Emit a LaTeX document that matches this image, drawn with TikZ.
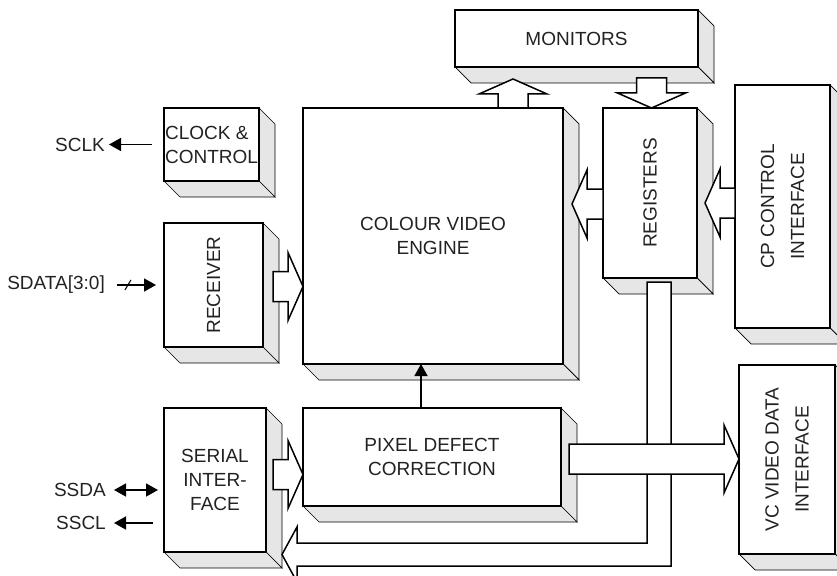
\documentclass[tikz,border=0pt]{standalone}
\usepackage{fontspec}
\setmainfont{Liberation Sans}
\usetikzlibrary{arrows.meta,calc,backgrounds}
\definecolor{ink}{HTML}{000000}
\definecolor{shade}{HTML}{E6E6E6}
\definecolor{txt}{HTML}{222222}
\newcommand\extrude[1]{\draw[face] (#1.north east) -- ++(16,16) -- ($(#1.south east)+(16,16)$) -- (#1.south east) -- cycle;\draw[face] (#1.south west) -- ++(16,16) -- ($(#1.south east)+(16,16)$) -- (#1.south east) -- cycle;}
\begin{document}
\begin{tikzpicture}[x=1pt,y=-1pt,every node/.style={font=\fontsize{19}{24}\selectfont,text=txt},box/.style={draw=ink,line width=1.6pt,fill=white,align=center,inner sep=0pt,outer sep=0pt},face/.style={draw=ink,line width=0.7pt,fill=shade},blk/.style={draw=ink,line width=1.5pt,fill=white},hollow/.style={blk,to path={let \p1=(\tikztostart),\p2=(\tikztotarget),\n1={atan2(\y2-\y1,\x2-\x1)},\n2={veclen(\x2-\x1,\y2-\y1)-15pt} in ($(\p1)+(\n1+90:15pt)$) -- ($(\p1)+(\n1:\n2)+(\n1+90:15pt)$) -- ($(\p1)+(\n1:\n2)+(\n1+90:34pt)$) -- (\p2) -- ($(\p1)+(\n1:\n2)+(\n1-90:34pt)$) -- ($(\p1)+(\n1:\n2)+(\n1-90:15pt)$) -- ($(\p1)+(\n1-90:15pt)$) -- cycle}},sig/.style={draw=ink,line width=1.6pt},fwd/.style={sig,-{Triangle[length=12pt,width=13pt]}},twoway/.style={sig,{Triangle[length=12pt,width=13pt]}-{Triangle[length=12pt,width=13pt]}},sigtext/.style={anchor=east,inner sep=0pt},turned/.style={rotate=90,align=center,font=\fontsize{19}{30}\selectfont}]
\useasboundingbox (0,0) rectangle (837,575);
\node[box,minimum width=243pt,minimum height=57pt] (mon) at (576.5,38.5) {MONITORS};
\node[box,minimum width=95pt,minimum height=73pt,align=left] (clk) at (211.5,144.5) {CLOCK \&\\CONTROL};
\node[box,minimum width=260pt,minimum height=256pt] (cve) at (433,236) {COLOUR VIDEO\\ENGINE};
\node[box,minimum width=94pt,minimum height=170pt,label={[rotate=90]center:REGISTERS}] (reg) at (650,193) {};
\node[box,minimum width=95pt,minimum height=243pt,label={[turned]center:CP CONTROL\\INTERFACE}] (cp) at (782.5,206.5) {};
\node[box,minimum width=99pt,minimum height=124pt,label={[rotate=90]center:RECEIVER}] (rcv) at (213.5,285) {};
\node[box,minimum width=102pt,minimum height=144pt] (ser) at (215,480) {SERIAL\\INTER-\\FACE};
\node[box,minimum width=258pt,minimum height=98pt] (pdc) at (432,457) {PIXEL DEFECT\\CORRECTION};
\node[box,minimum width=96pt,minimum height=189pt,label={[turned]center:VC VIDEO DATA\\INTERFACE}] (vc) at (787,459.5) {};
\begin{scope}[on background layer]
\extrude{mon}\extrude{clk}\extrude{cve}\extrude{reg}\extrude{cp}\extrude{rcv}\extrude{ser}\extrude{pdc}\extrude{vc}
\end{scope}
\node[sigtext] (sclk) at (105,144.5) {SCLK};
\node[sigtext] (sdat) at (105,285) {SDATA[3:0]};
\node[sigtext] (ssda) at (106,490) {SSDA};
\node[sigtext] (sscl) at (106,523) {SSCL};
\draw[fwd] ($(clk.west)+(-12,0)$) -- ($(sclk.east)+(4,0)$);
\draw[fwd] ($(sdat.east)+(12,0)$) -- coordinate[pos=0.28] (bus) ($(rcv.west)+(-8,0)$);
\draw[sig,line width=1pt] ($(bus)+(-3,5)$) -- ($(bus)+(3,-5)$);
\draw[twoway] ($(ssda.east)+(8,0)$) -- ($(ser.west |- ssda.east)+(-6,0)$);
\draw[fwd] ($(ser.west |- sscl.east)+(-11,0)$) -- ($(sscl.east)+(8,0)$);
\draw[fwd] ($(pdc.north)+(-11,0)$) -- ($(cve.south)+(-12,0)$);
\draw[hollow] ($(cve.north)+(80,0)$) to ($(mon.south)+(-63.5,12)$);
\draw[hollow] ($(mon.south)+(75,11)$) to ($(reg.north)+(1.5,0)$);
\draw[hollow] ($(reg.west)+(0,11)$) to ($(cve.east)+(9,-32)$);
\draw[hollow] ($(cp.west)+(0,-3.5)$) to ($(reg.east)+(8,10)$);
\draw[hollow] ($(rcv.east)+(10,1.5)$) to ($(cve.west)+(0,50.5)$);
\draw[hollow] ($(ser.east)+(7,-5.5)$) to ($(pdc.west)+(0,17.5)$);
\path ($(reg.south)+(9,4)$) coordinate (ltop) ($(ser.south east)+(16,2.5)$) coordinate (ltip);
\draw[blk] ($(ltop)+(-12,0)$) -- ($(ltop)+(12,0)$) -- ($(ltop |- ltip)+(12,11.5)$) -- ($(ltip)+(15,11.5)$) -- ($(ltip)+(15,27.5)$) -- (ltip) -- ($(ltip)+(15,-27.5)$) -- ($(ltip)+(15,-11.5)$) -- ($(ltop |- ltip)+(-12,-11.5)$) -- cycle;
\draw[hollow] ($(pdc.east)+(8,2)$) to ($(vc.west)+(0,-0.5)$);
\end{tikzpicture}
\end{document}
